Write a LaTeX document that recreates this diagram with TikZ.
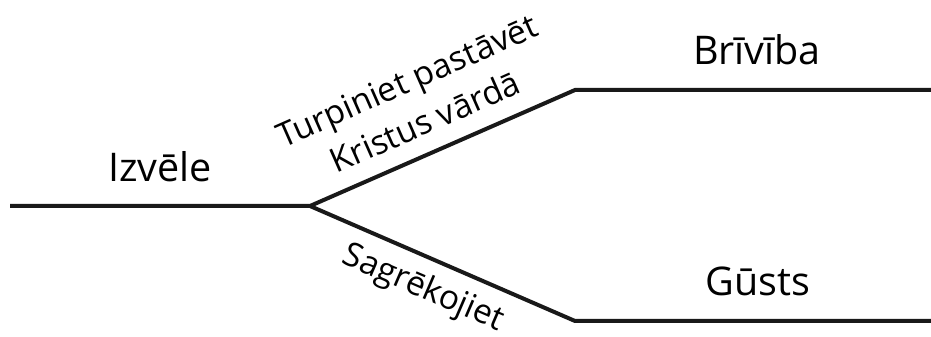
\documentclass[tikz,border=0pt]{standalone}
\usepackage{fontspec}
\setmainfont{Open Sans}
\begin{document}
\begin{tikzpicture}[x=1pt,y=1pt,
  branch/.style={line width=4pt, black!90},
  biglabel/.style={font=\fontsize{39.5}{48}\selectfont, inner sep=0pt, anchor=base},
  sidelabel/.style={font=\fontsize{33.5}{45}\selectfont, inner sep=0pt, align=center}]
\useasboundingbox (0,0) rectangle (931,337);
\coordinate (start) at (10,131);
\coordinate (fork) at (310,131);
\coordinate (upc) at (575,247);
\coordinate (upend) at (931,247);
\coordinate (loc) at (575,16);
\coordinate (loend) at (931,16);
\draw[branch] (start) -- (fork) -- (upc) -- (upend);
\draw[branch] (fork) -- (loc) -- (loend);
\node[biglabel] (izvele) at (160,155) {Izvēle};
\node[biglabel] (briviba) at (757,272) {Brīvība};
\node[biglabel] (gusts) at (758,41) {Gūsts};
\node[sidelabel, rotate=23.8] (turp) at (416,236) {Turpiniet pastāvēt\\Kristus vārdā};
\node[sidelabel, rotate=-23.3] (sagr) at (423,48) {Sagrēkojiet};
\end{tikzpicture}
\end{document}
